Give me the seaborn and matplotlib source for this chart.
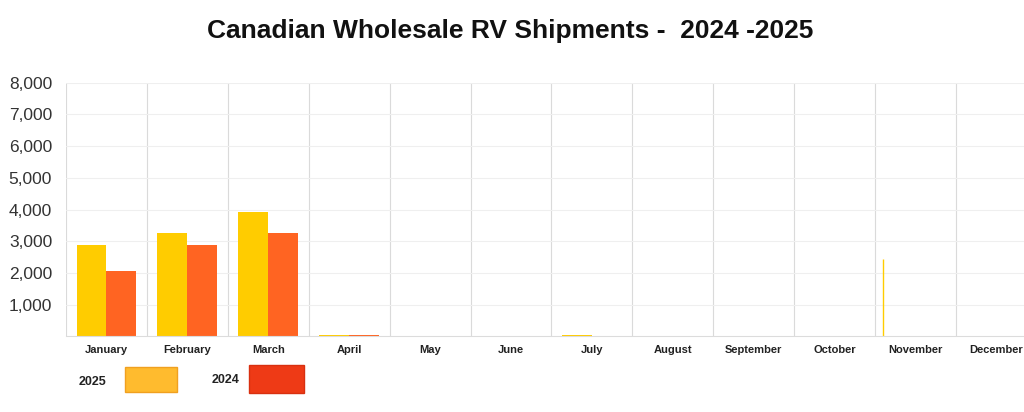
import numpy as np
import pandas as pd
import matplotlib
matplotlib.use("Agg")
import matplotlib.pyplot as plt
import matplotlib.patches as mpatches
import seaborn as sns

# -----------------------------------------------------------------------------
# data

months = ['January', 'February', 'March', 'April', 'May', 'June', 'July',
          'August', 'September', 'October', 'November', 'December']
ship_2025 = [2870, 3260, 3920, 30, 0, 0, 30, 0, 0, 0, 0, 0]
ship_2024 = [2060, 2880, 3260, 30, 0, 0, 0, 0, 0, 0, 0, 0]
nov_spike = 2450                      # thin stray line in November
years = ['2025', '2024']
yticks = [1000, 2000, 3000, 4000, 5000, 6000, 7000, 8000]

gold = '#FFCC00'
orange = '#FF6422'

df = pd.DataFrame({
    'month': months * 2,
    'value': ship_2025 + ship_2024,
    'year': ['2025'] * len(months) + ['2024'] * len(months),
})

# -----------------------------------------------------------------------------
sns.set_style("white")
plt.rcParams['font.family'] = ['Liberation Sans', 'DejaVu Sans']

fig = plt.figure(figsize=(10.24, 4.12), dpi=100)
ax = fig.add_axes([0.0645, 0.184, 0.948, 0.615])

sns.barplot(data=df, x='month', y='value', hue='year', hue_order=years,
            palette=[gold, orange], width=0.74, dodge=True, linewidth=0,
            saturation=1, legend=False, ax=ax)

ax.vlines(10 - 0.4, 0, nov_spike, color=gold, lw=1)

ax.set_ylim(0, 8000)
ax.set_xlim(-0.5, 11.5)
ax.set_yticks(yticks)
ax.set_yticklabels([f'{v:,}' for v in yticks], fontsize=12.5, color='#333333')
ax.tick_params(axis='y', length=0, pad=10)
ax.tick_params(axis='x', length=0, pad=6)
for lbl in ax.get_xticklabels():
    lbl.set_fontsize(8)
    lbl.set_fontweight('bold')
    lbl.set_color('#222222')
ax.set_xlabel('')
ax.set_ylabel('')

# grid: vertical separators between months, faint horizontal lines
for b in np.arange(-0.5, 12, 1):
    ax.axvline(b, color='#dadada', lw=0.8, zorder=0)
for v in yticks:
    ax.axhline(v, color='#efefef', lw=0.8, zorder=0)

for s in ['top', 'right', 'left']:
    ax.spines[s].set_visible(False)
ax.spines['bottom'].set_color('#dcdcdc')

fig.text(0.498, 0.925, 'Canadian Wholesale RV Shipments -  2024 -2025',
         ha='center', va='center', fontsize=19, fontweight='bold', color='#111111')

# legend swatches below the chart
fig.text(0.077, 0.072, '2025', fontsize=9, fontweight='bold', color='#222222',
         ha='left', va='center')
fig.patches.append(mpatches.Rectangle((0.122, 0.048), 0.051, 0.062,
                                      transform=fig.transFigure,
                                      facecolor='#FFBB2E', edgecolor='#F0A020', lw=1))
fig.text(0.207, 0.078, '2024', fontsize=9, fontweight='bold', color='#222222',
         ha='left', va='center')
fig.patches.append(mpatches.Rectangle((0.243, 0.046), 0.054, 0.068,
                                      transform=fig.transFigure,
                                      facecolor='#EE3A16', edgecolor='#D83010', lw=1))

fig.savefig('out.png', dpi=100)
